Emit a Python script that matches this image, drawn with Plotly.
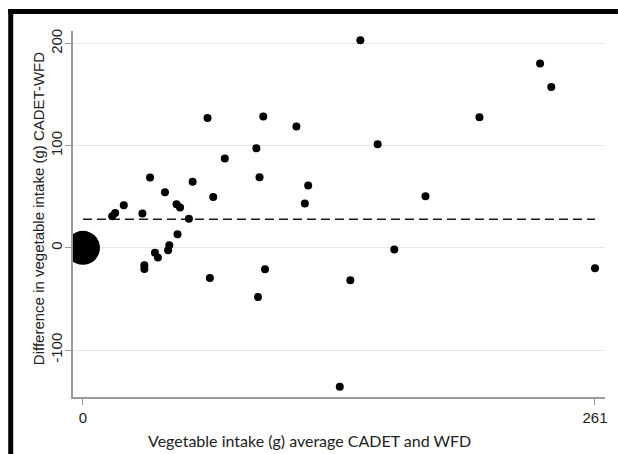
import plotly.graph_objects as go

# Bland-Altman style comparison: average of the two methods vs. their difference
avg_intake = [14.9, 16.4, 20.8, 30.3, 34.2, 31.3, 31.3, 36.7, 38.2, 41.8,
              43.4, 44.0, 47.7, 49.5, 48.2, 54.0, 55.9, 63.5, 64.7, 66.4,
              72.3, 88.4, 90.0, 89.2, 91.9, 92.8, 108.8, 114.8, 113.1, 130.9,
              136.3, 141.4, 150.2, 158.7, 174.6, 202.1, 233.0, 238.7, 261.0]
diff_intake = [31.0, 34.2, 41.8, 33.7, 69.0, -16.9, -20.8, -4.7, -9.4, 54.5,
               -2.3, 2.6, 42.8, 39.5, 13.4, 28.6, 64.6, 127.2, -29.6, 49.9,
               87.5, 97.6, 69.2, -48.2, 128.7, -21.0, 118.9, 61.1, 43.5, -136.0,
               -31.6, 203.2, 101.5, -1.6, 50.6, 127.9, 180.4, 157.5, -19.9]

# Respondents reporting zero intake with both methods, drawn as one large marker
zero_point = (0, 0)
mean_diff = 28
x_ticks = [0, 261]
y_ticks = [-100, 0, 100, 200]

# plot-area geometry in pixels (used for titles and the frame)
W, H = 618, 454
L, R, T, B = 73, 11, 31, 57
PW, PH = W - L - R, H - T - B


def px_x(p):
    return (p - L) / PW


def px_y(p):
    return 1 - (p - T) / PH


fig = go.Figure()

fig.add_trace(go.Scatter(
    x=[x_ticks[0], x_ticks[-1]], y=[mean_diff, mean_diff],
    mode="lines", line=dict(color="#1a1a1a", width=1.6, dash="9px,5px"),
    hoverinfo="skip", showlegend=False,
))
fig.add_trace(go.Scatter(
    x=avg_intake, y=diff_intake, mode="markers",
    marker=dict(color="black", size=8, line=dict(width=0)),
    showlegend=False,
))
fig.add_trace(go.Scatter(
    x=[zero_point[0]], y=[zero_point[1]], mode="markers",
    marker=dict(color="black", size=34, line=dict(width=0)),
    showlegend=False,
))

axis_font = dict(family="Liberation Sans", size=15, color="#222")

fig.update_layout(
    width=W, height=H,
    margin=dict(l=L, r=R, t=T, b=B),
    paper_bgcolor="white", plot_bgcolor="white",
    font=axis_font,
    xaxis=dict(
        range=[-5.08, 266.1], tickvals=x_ticks, ticktext=[str(v) for v in x_ticks],
        showgrid=False, zeroline=False,
        showline=True, linecolor="#9a9a9a", linewidth=1.5,
        ticks="outside", ticklen=6, tickcolor="#9a9a9a", tickwidth=1,
        tickfont=axis_font,
    ),
    yaxis=dict(
        range=[-146, 212.3], tickvals=y_ticks, ticktext=[str(v) for v in y_ticks],
        tickangle=-90,
        showgrid=True, gridcolor="#e6e6e6", gridwidth=1, zeroline=False,
        showline=True, linecolor="#9a9a9a", linewidth=1.5,
        ticks="outside", ticklen=6, tickcolor="#9a9a9a", tickwidth=1,
        tickfont=axis_font, ticklabelstandoff=-3,
    ),
    annotations=[
        dict(text="Vegetable intake (g) average CADET and WFD",
             xref="paper", yref="paper", x=px_x(310), y=px_y(441),
             xanchor="center", yanchor="middle", showarrow=False,
             font=dict(family="Lato", size=16, color="#222")),
        dict(text="Difference in vegetable intake (g) CADET-WFD",
             xref="paper", yref="paper", x=px_x(38), y=px_y(209),
             xanchor="center", yanchor="middle", showarrow=False, textangle=-90,
             font=dict(family="Liberation Sans", size=15, color="#222")),
    ],
    shapes=[
        # framing border along the top and left edges
        dict(type="rect", xref="paper", yref="paper",
             x0=px_x(8), x1=px_x(620), y0=px_y(14), y1=px_y(9),
             fillcolor="black", line=dict(width=0), layer="above"),
        dict(type="rect", xref="paper", yref="paper",
             x0=px_x(8), x1=px_x(13), y0=px_y(456), y1=px_y(9),
             fillcolor="black", line=dict(width=0), layer="above"),
    ],
)

fig.write_html("out.html")
